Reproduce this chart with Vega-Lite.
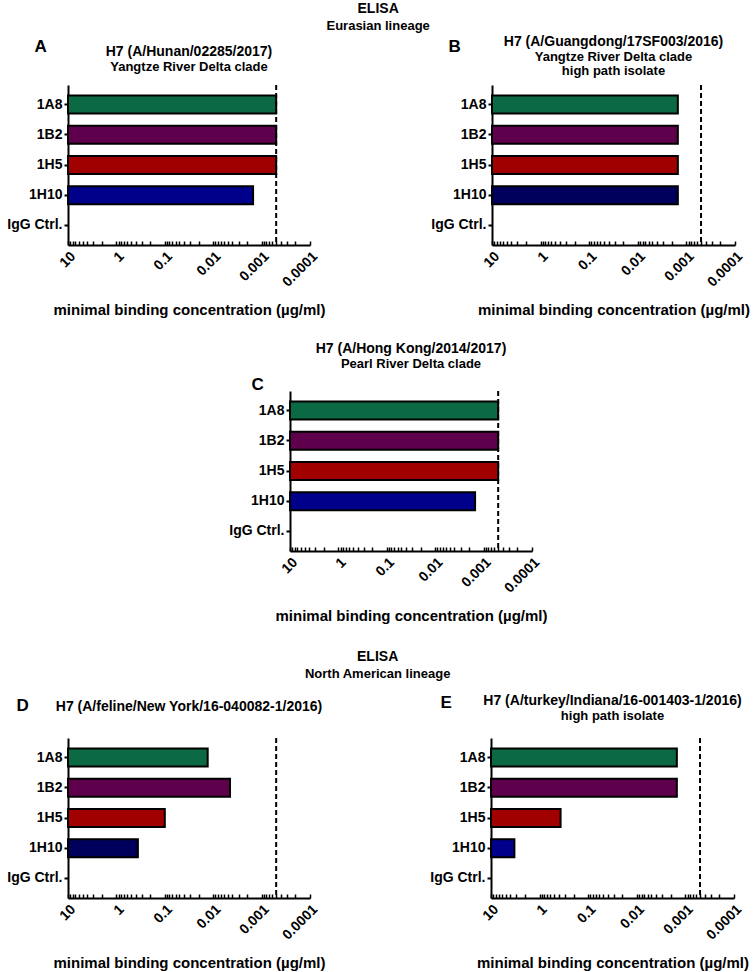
{
  "$schema": "https://vega.github.io/schema/vega-lite/v6.json",
  "padding": {"left": 6, "top": 2, "right": 0, "bottom": 0},
  "background": "white",
  "config": {
    "font": "Liberation Sans",
    "view": {"stroke": null},
    "axis": {"domainColor": "black", "domainWidth": 2, "tickColor": "black", "tickWidth": 1.5, "labelColor": "black", "labelFont": "Liberation Sans", "labelFontWeight": "bold", "labelFontSize": 14, "titleColor": "black", "titleFont": "Liberation Sans", "titleFontWeight": "bold", "titleFontSize": 15, "grid": false},
    "axisY": {"tickSize": 4, "tickWidth": 2, "labelPadding": 2},
    "title": {"font": "Liberation Sans", "fontSize": 14, "fontWeight": "bold", "color": "black", "subtitleFont": "Liberation Sans", "subtitleFontSize": 13, "subtitleFontWeight": "bold", "subtitleColor": "black", "subtitlePadding": 2, "anchor": "middle"}
  },
  "datasets": {
    "A": [{"antibody": "1A8", "mbc": 0.0005}, {"antibody": "1B2", "mbc": 0.0005}, {"antibody": "1H5", "mbc": 0.0005}, {"antibody": "1H10", "mbc": 0.0015}, {"antibody": "IgG Ctrl.", "mbc": null}],
    "B": [{"antibody": "1A8", "mbc": 0.0015}, {"antibody": "1B2", "mbc": 0.0015}, {"antibody": "1H5", "mbc": 0.0015}, {"antibody": "1H10", "mbc": 0.0015}, {"antibody": "IgG Ctrl.", "mbc": null}],
    "C": [{"antibody": "1A8", "mbc": 0.0005}, {"antibody": "1B2", "mbc": 0.0005}, {"antibody": "1H5", "mbc": 0.0005}, {"antibody": "1H10", "mbc": 0.0015}, {"antibody": "IgG Ctrl.", "mbc": null}],
    "D": [{"antibody": "1A8", "mbc": 0.013}, {"antibody": "1B2", "mbc": 0.0045}, {"antibody": "1H5", "mbc": 0.1}, {"antibody": "1H10", "mbc": 0.36}, {"antibody": "IgG Ctrl.", "mbc": null}],
    "E": [{"antibody": "1A8", "mbc": 0.0015}, {"antibody": "1B2", "mbc": 0.0015}, {"antibody": "1H5", "mbc": 0.37}, {"antibody": "1H10", "mbc": 3.3}, {"antibody": "IgG Ctrl.", "mbc": null}],
    "cutoff": [{"limit": 0.0005}],
    "none": []
  },
  "title": {"text": "ELISA", "subtitle": "Eurasian lineage", "anchor": "middle", "offset": 2, "subtitlePadding": 4},
  "spacing": 26,
  "resolve": {"scale": {"color": "independent", "x": "independent", "y": "independent"}},
  "vconcat": [
    {
      "spacing": 24,
      "resolve": {"scale": {"color": "independent", "x": "independent", "y": "independent"}},
      "vconcat": [
        {
          "spacing": 182,
          "bounds": "flush",
          "resolve": {"scale": {"color": "independent", "x": "independent", "y": "independent"}},
          "hconcat": [
            {
              "width": 242, "height": 160,
              "title": {"text": "H7 (A/Hunan/02285/2017)", "subtitle": "Yangtze  River  Delta clade", "offset": -37},
              "layer": [
                {"data": {"name": "A"}, "mark": {"type": "bar", "stroke": "black", "strokeWidth": 2},
                 "encoding": {
                   "y": {"field": "antibody", "type": "nominal", "sort": null, "scale": {"domain": ["1A8", "1B2", "1H5", "1H10", "IgG Ctrl."], "paddingInner": 0.4, "paddingOuter": 0.345}, "axis": {"title": "A", "titleAngle": 0, "titleAlign": "left", "titleBaseline": "alphabetic", "titleX": -34, "titleY": -34, "titleFontSize": 17}},
                   "x": {"field": "mbc", "type": "quantitative", "title": "minimal binding concentration (µg/ml)", "scale": {"type": "log", "domain": [0.0001, 10], "reverse": true}, "axis": {"values": [10, 9, 8, 7, 6, 5, 4, 3, 2, 1, 0.9, 0.8, 0.7, 0.6, 0.5, 0.4, 0.3, 0.2, 0.1, 0.09, 0.08, 0.07, 0.06, 0.05, 0.04, 0.03, 0.02, 0.01, 0.009, 0.008, 0.007, 0.006, 0.005, 0.004, 0.003, 0.002, 0.001, 0.0009, 0.0008, 0.0007, 0.0006, 0.0005, 0.0004, 0.0003, 0.0002, 0.0001], "format": "~g", "labelExpr": "indexof(['10','1','0.1','0.01','0.001','0.0001'], datum.label) >= 0 ? datum.label : ''", "labelAngle": -45, "tickSize": -4, "labelPadding": 8, "labelFlush": false, "labelOverlap": false, "labelBound": false, "titlePadding": 13}},
                   "x2": {"datum": 10},
                   "color": {"field": "antibody", "type": "nominal", "scale": {"domain": ["1A8", "1B2", "1H5", "1H10"], "range": ["#0b6a43", "#5e004b", "#a00000", "#00008b"]}, "legend": null}
                 }},
                {"data": {"name": "cutoff"}, "mark": {"type": "rule", "strokeDash": [5, 3], "strokeWidth": 2, "color": "black"}, "encoding": {"x": {"field": "limit", "type": "quantitative", "title": "minimal binding concentration (µg/ml)"}}}
              ]
            },
            {
              "width": 243, "height": 160,
              "title": {"text": "H7 (A/Guangdong/17SF003/2016)", "subtitle": ["Yangtze  River Delta clade", "high path isolate"], "subtitleLineHeight": 14, "offset": -41},
              "layer": [
                {"data": {"name": "B"}, "mark": {"type": "bar", "stroke": "black", "strokeWidth": 2},
                 "encoding": {
                   "y": {"field": "antibody", "type": "nominal", "sort": null, "scale": {"domain": ["1A8", "1B2", "1H5", "1H10", "IgG Ctrl."], "paddingInner": 0.4, "paddingOuter": 0.345}, "axis": {"title": "B", "titleAngle": 0, "titleAlign": "left", "titleBaseline": "alphabetic", "titleX": -44, "titleY": -34, "titleFontSize": 17}},
                   "x": {"field": "mbc", "type": "quantitative", "title": "minimal binding concentration (µg/ml)", "scale": {"type": "log", "domain": [0.0001, 10], "reverse": true}, "axis": {"values": [10, 9, 8, 7, 6, 5, 4, 3, 2, 1, 0.9, 0.8, 0.7, 0.6, 0.5, 0.4, 0.3, 0.2, 0.1, 0.09, 0.08, 0.07, 0.06, 0.05, 0.04, 0.03, 0.02, 0.01, 0.009, 0.008, 0.007, 0.006, 0.005, 0.004, 0.003, 0.002, 0.001, 0.0009, 0.0008, 0.0007, 0.0006, 0.0005, 0.0004, 0.0003, 0.0002, 0.0001], "format": "~g", "labelExpr": "indexof(['10','1','0.1','0.01','0.001','0.0001'], datum.label) >= 0 ? datum.label : ''", "labelAngle": -45, "tickSize": -4, "labelPadding": 8, "labelFlush": false, "labelOverlap": false, "labelBound": false, "titlePadding": 13}},
                   "x2": {"datum": 10},
                   "color": {"field": "antibody", "type": "nominal", "scale": {"domain": ["1A8", "1B2", "1H5", "1H10"], "range": ["#0b6a43", "#5e004b", "#a00000", "#00005c"]}, "legend": null}
                 }},
                {"data": {"name": "cutoff"}, "mark": {"type": "rule", "strokeDash": [5, 3], "strokeWidth": 2, "color": "black"}, "encoding": {"x": {"field": "limit", "type": "quantitative", "title": "minimal binding concentration (µg/ml)"}}}
              ]
            }
          ]
        },
        {
          "spacing": 20,
          "bounds": "flush",
          "resolve": {"scale": {"color": "independent", "x": "independent", "y": "independent"}},
          "hconcat": [
            {"width": 202, "height": 10, "data": {"name": "none"}, "mark": {"type": "point", "opacity": 0}},
            {
              "width": 242, "height": 160,
              "title": {"text": "H7 (A/Hong Kong/2014/2017)", "subtitle": "Pearl  River  Delta clade", "offset": 4},
              "layer": [
                {"data": {"name": "C"}, "mark": {"type": "bar", "stroke": "black", "strokeWidth": 2},
                 "encoding": {
                   "y": {"field": "antibody", "type": "nominal", "sort": null, "scale": {"domain": ["1A8", "1B2", "1H5", "1H10", "IgG Ctrl."], "paddingInner": 0.4, "paddingOuter": 0.345}, "axis": {"title": "C", "titleAngle": 0, "titleAlign": "left", "titleBaseline": "alphabetic", "titleX": -39, "titleY": -2, "titleFontSize": 17}},
                   "x": {"field": "mbc", "type": "quantitative", "title": "minimal binding concentration (µg/ml)", "scale": {"type": "log", "domain": [0.0001, 10], "reverse": true}, "axis": {"values": [10, 9, 8, 7, 6, 5, 4, 3, 2, 1, 0.9, 0.8, 0.7, 0.6, 0.5, 0.4, 0.3, 0.2, 0.1, 0.09, 0.08, 0.07, 0.06, 0.05, 0.04, 0.03, 0.02, 0.01, 0.009, 0.008, 0.007, 0.006, 0.005, 0.004, 0.003, 0.002, 0.001, 0.0009, 0.0008, 0.0007, 0.0006, 0.0005, 0.0004, 0.0003, 0.0002, 0.0001], "format": "~g", "labelExpr": "indexof(['10','1','0.1','0.01','0.001','0.0001'], datum.label) >= 0 ? datum.label : ''", "labelAngle": -45, "tickSize": -4, "labelPadding": 8, "labelFlush": false, "labelOverlap": false, "labelBound": false, "titlePadding": 13}},
                   "x2": {"datum": 10},
                   "color": {"field": "antibody", "type": "nominal", "scale": {"domain": ["1A8", "1B2", "1H5", "1H10"], "range": ["#0b6a43", "#5e004b", "#a00000", "#00008b"]}, "legend": null}
                 }},
                {"data": {"name": "cutoff"}, "mark": {"type": "rule", "strokeDash": [5, 3], "strokeWidth": 2, "color": "black"}, "encoding": {"x": {"field": "limit", "type": "quantitative", "title": "minimal binding concentration (µg/ml)"}}}
              ]
            }
          ]
        }
      ]
    },
    {
      "title": {"text": "ELISA", "subtitle": "North American lineage", "anchor": "middle", "offset": 12, "subtitlePadding": 4},
      "spacing": 181,
      "bounds": "flush",
      "resolve": {"scale": {"color": "independent", "x": "independent", "y": "independent"}},
      "hconcat": [
        {
          "width": 242, "height": 160,
          "title": {"text": "H7 (A/feline/New York/16-040082-1/2016)", "offset": -18},
          "layer": [
            {"data": {"name": "D"}, "mark": {"type": "bar", "stroke": "black", "strokeWidth": 2},
             "encoding": {
               "y": {"field": "antibody", "type": "nominal", "sort": null, "scale": {"domain": ["1A8", "1B2", "1H5", "1H10", "IgG Ctrl."], "paddingInner": 0.4, "paddingOuter": 0.345}, "axis": {"title": "D", "titleAngle": 0, "titleAlign": "left", "titleBaseline": "alphabetic", "titleX": -52, "titleY": -28, "titleFontSize": 17}},
               "x": {"field": "mbc", "type": "quantitative", "title": "minimal binding concentration (µg/ml)", "scale": {"type": "log", "domain": [0.0001, 10], "reverse": true}, "axis": {"values": [10, 9, 8, 7, 6, 5, 4, 3, 2, 1, 0.9, 0.8, 0.7, 0.6, 0.5, 0.4, 0.3, 0.2, 0.1, 0.09, 0.08, 0.07, 0.06, 0.05, 0.04, 0.03, 0.02, 0.01, 0.009, 0.008, 0.007, 0.006, 0.005, 0.004, 0.003, 0.002, 0.001, 0.0009, 0.0008, 0.0007, 0.0006, 0.0005, 0.0004, 0.0003, 0.0002, 0.0001], "format": "~g", "labelExpr": "indexof(['10','1','0.1','0.01','0.001','0.0001'], datum.label) >= 0 ? datum.label : ''", "labelAngle": -45, "tickSize": -4, "labelPadding": 8, "labelFlush": false, "labelOverlap": false, "labelBound": false, "titlePadding": 13}},
               "x2": {"datum": 10},
               "color": {"field": "antibody", "type": "nominal", "scale": {"domain": ["1A8", "1B2", "1H5", "1H10"], "range": ["#0b6a43", "#5e004b", "#a00000", "#00005c"]}, "legend": null}
             }},
            {"data": {"name": "cutoff"}, "mark": {"type": "rule", "strokeDash": [5, 3], "strokeWidth": 2, "color": "black"}, "encoding": {"x": {"field": "limit", "type": "quantitative", "title": "minimal binding concentration (µg/ml)"}}}
          ]
        },
        {
          "width": 243, "height": 160,
          "title": {"text": "H7 (A/turkey/Indiana/16-001403-1/2016)", "subtitle": "high path isolate", "offset": -30},
          "layer": [
            {"data": {"name": "E"}, "mark": {"type": "bar", "stroke": "black", "strokeWidth": 2},
             "encoding": {
               "y": {"field": "antibody", "type": "nominal", "sort": null, "scale": {"domain": ["1A8", "1B2", "1H5", "1H10", "IgG Ctrl."], "paddingInner": 0.4, "paddingOuter": 0.345}, "axis": {"title": "E", "titleAngle": 0, "titleAlign": "left", "titleBaseline": "alphabetic", "titleX": -51, "titleY": -31, "titleFontSize": 17}},
               "x": {"field": "mbc", "type": "quantitative", "title": "minimal binding concentration (µg/ml)", "scale": {"type": "log", "domain": [0.0001, 10], "reverse": true}, "axis": {"values": [10, 9, 8, 7, 6, 5, 4, 3, 2, 1, 0.9, 0.8, 0.7, 0.6, 0.5, 0.4, 0.3, 0.2, 0.1, 0.09, 0.08, 0.07, 0.06, 0.05, 0.04, 0.03, 0.02, 0.01, 0.009, 0.008, 0.007, 0.006, 0.005, 0.004, 0.003, 0.002, 0.001, 0.0009, 0.0008, 0.0007, 0.0006, 0.0005, 0.0004, 0.0003, 0.0002, 0.0001], "format": "~g", "labelExpr": "indexof(['10','1','0.1','0.01','0.001','0.0001'], datum.label) >= 0 ? datum.label : ''", "labelAngle": -45, "tickSize": -4, "labelPadding": 8, "labelFlush": false, "labelOverlap": false, "labelBound": false, "titlePadding": 13}},
               "x2": {"datum": 10},
               "color": {"field": "antibody", "type": "nominal", "scale": {"domain": ["1A8", "1B2", "1H5", "1H10"], "range": ["#0b6a43", "#5e004b", "#a00000", "#00008b"]}, "legend": null}
             }},
            {"data": {"name": "cutoff"}, "mark": {"type": "rule", "strokeDash": [5, 3], "strokeWidth": 2, "color": "black"}, "encoding": {"x": {"field": "limit", "type": "quantitative", "title": "minimal binding concentration (µg/ml)"}}}
          ]
        }
      ]
    }
  ]
}
